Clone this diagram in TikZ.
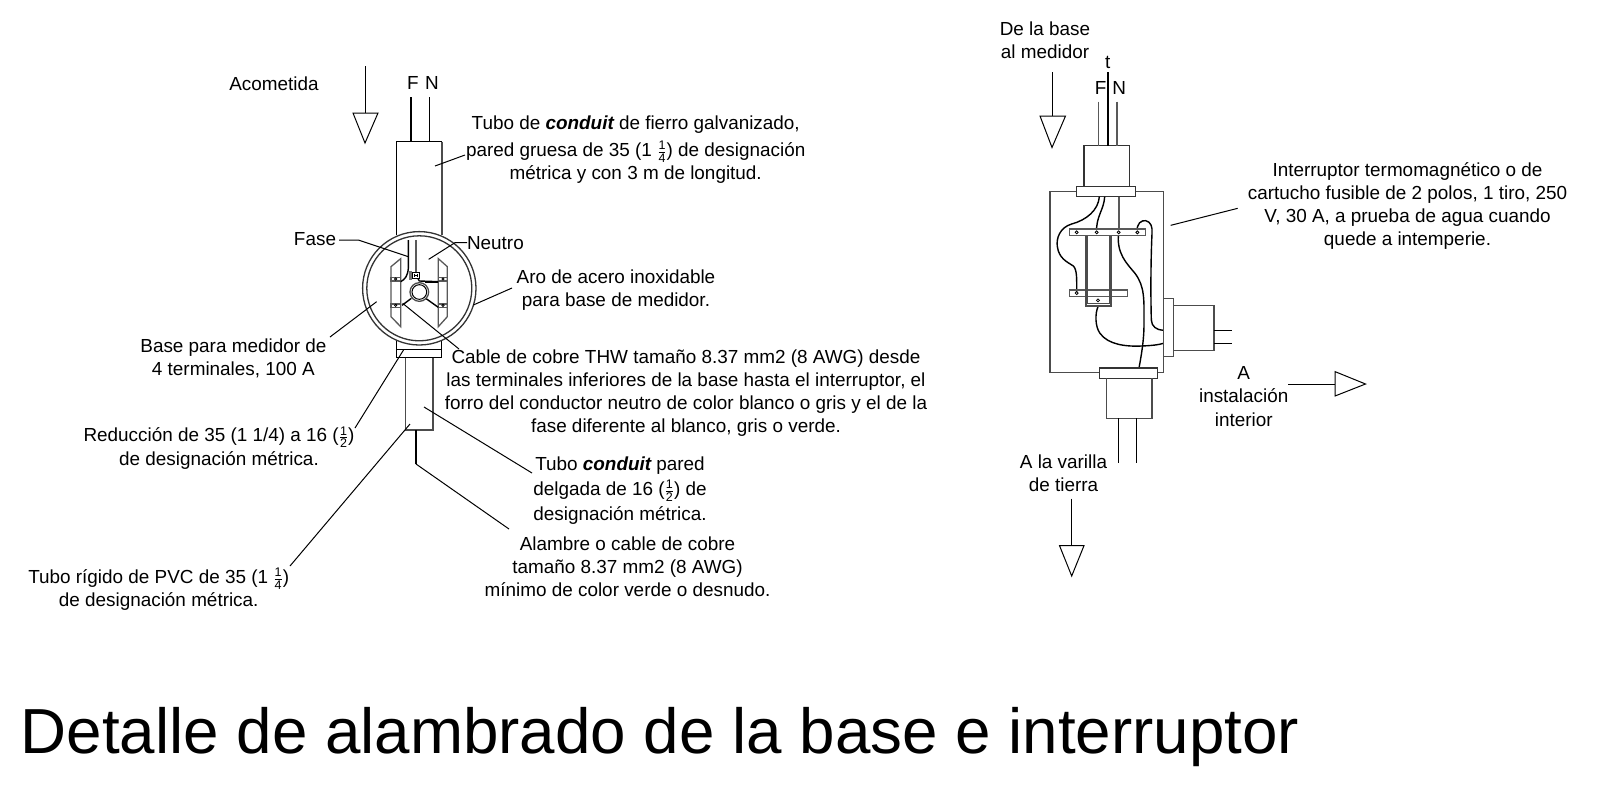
\documentclass[tikz,border=0pt]{standalone}
\usepackage{fontspec}
\setmainfont{Liberation Sans}
\newcommand\fr[2]{\smash{$\frac{\mbox{\fontsize{12.5}{12.5}\selectfont #1}}{\mbox{\fontsize{12.5}{12.5}\selectfont #2}}$}}
\tikzset{
  lab/.style={align=center,font=\fontsize{18.9}{23.2}\selectfont,inner sep=0pt},
  ttl/.style={font=\fontsize{63.7}{70}\selectfont,inner sep=0pt},
  thin line/.style={draw=black,line width=1pt},
  tubeline/.style={draw=black!70,line width=1.3pt},
  wire/.style={draw=black,line width=1.4pt},
  grayw/.style={draw=black!65,line width=1.3pt},
  arrowhd/.style={draw=black,line width=1pt,fill=white,line join=miter},
}
\begin{document}
\begin{tikzpicture}[x=1pt,y=-1pt]
\useasboundingbox (0,0) rectangle (1605,793);
% ---------- Left: labels
\node[lab] (acom) at (274,84) {Acometida};
\node[lab] (lf) at (413,83.3) {F};
\node[lab] (ln) at (432,83.3) {N};
\node[lab] (ltubo) at (635.7,150) {Tubo de {\bfseries\itshape conduit} de fierro galvanizado,\\[3.5pt]pared gruesa de 35 (1 \fr{1}{4}) de designación\\métrica y con 3 m de longitud.};
\node[lab] (lfase) at (315,239) {Fase};
\node[lab] (lneu) at (495.4,243) {Neutro};
\node[lab] (laro) at (616,290.5) {Aro de acero inoxidable\\para base de medidor.};
\node[lab] (lbase) at (233.4,358.5) {Base para medidor de\\4 terminales, 100 A};
\node[lab] (lcable) at (686,393) {Cable de cobre THW tamaño 8.37 mm2 (8 AWG) desde\\las terminales inferiores de la base hasta el interruptor, el\\forro del conductor neutro de color blanco o gris y el de la\\fase diferente al blanco, gris o verde.};
\node[lab] (lred) at (219,448.5) {Reducción de 35 (1 1/4) a 16 (\fr{1}{2})\\de designación métrica.};
\node[lab] (lcond) at (620,490.5) {Tubo {\bfseries\itshape conduit} pared\\[1.5pt]delgada de 16 (\fr{1}{2}) de\\[1.5pt]designación métrica.};
\node[lab] (lalam) at (627.5,566.5) {Alambre o cable de cobre\\tamaño 8.37 mm2 (8 AWG)\\mínimo de color verde o desnudo.};
\node[lab] (lpvc) at (158.7,590) {Tubo rígido de PVC de 35 (1 \fr{1}{4})\\de designación métrica.};
% ---------- Left: arrow
\coordinate (a1s) at (365,66); \coordinate (a1e) at (365,113);
\draw[thin line] (a1s) -- (a1e);
\draw[arrowhd] (353,113) -- (378,113) -- (365,143) -- cycle;
% ---------- Left: tubes
\draw[tubeline,draw=black] (396.7,235) -- (396.7,141.7) -- (442,141.7);
\draw[tubeline] (442,141.7) -- (442,235);
\draw[wire] (411,97.3) -- (411,141.7);
\draw[wire] (429.7,97.3) -- (429.7,141.7);
\draw[thin line] (396.7,340) -- (396.7,357.5) -- (441.7,357.5) -- (441.7,340);
\draw[thin line] (396.7,349) -- (441.7,349);
\draw[tubeline] (405.7,357.5) -- (405.7,430) -- (433,430) -- (433,357.5);
\coordinate (g1) at (416,430); \coordinate (g2) at (416,464); \coordinate (g3) at (509,529);
\draw[wire] (g1) -- (g2);
\draw[thin line] (g2) -- (g3);
% ---------- Left: meter, zoom coordinates
\fill[white] (419.3,288.3) circle (56.7);
\draw[tubeline,draw=black!80] (419.3,288.3) circle (56.7);
\draw[tubeline,draw=black!80] (419.3,288.3) circle (52.5);
\begin{scope}[xshift=330pt,yshift=-200pt,x=0.33333pt,y=-0.33333pt]
  \draw[grayw] (183,200) -- (212,176) -- (212,380) -- (183,350) -- cycle;
  \draw[grayw] (325,176) -- (352,200) -- (352,350) -- (325,380) -- cycle;
  \draw[grayw] (183,232) rectangle (212,243);
  \draw[grayw] (183,312) rectangle (212,323);
  \draw[grayw] (325,232) rectangle (352,243);
  \draw[grayw] (325,312) rectangle (352,323);
  \foreach \p in {(197,237),(197,316),(339,237),(339,316)} \draw[black,line width=.8pt] \p circle (3.5);
  \draw[wire] (235,120) -- (235,205) .. controls (233,228) and (225,238) .. (212,245);
  \draw[wire] (258,120) -- (258,225) -- (268,243) -- (325,245);
  \draw[wire] (285,246) -- (325,246);
  \fill[black!55] (238,213) rectangle (246,240);
  \draw[black,line width=.8pt,fill=white] (246,218) rectangle (268,236);
  \draw[black,line width=.9pt] (252,221) -- (252,232) (262,221) -- (262,232) (252,227) -- (262,227);
  \draw[wire] (244,295) -- (216,316);
  \draw[wire] (287,295) -- (325,322);
  \draw[black!70,line width=1.3pt] (268,276) circle (28);
  \draw[black,line width=1pt] (268,276) circle (22);
  \coordinate (pf1) at (235,170); \coordinate (pf2) at (85,120);
  \coordinate (pn1) at (296,178); \coordinate (pn2) at (375,128);
  \coordinate (pb) at (140,305);
  \coordinate (paro) at (430,315);
  \coordinate (pc) at (218,310);
\end{scope}
% ---------- Left: leaders
\coordinate (ut) at (435,166); \coordinate (ut2) at (465,155);
\draw[thin line] (ut) -- (ut2);
\coordinate (fs) at (339,240); \draw[thin line] (fs) -- (pf2) -- (pf1);
\coordinate (ns) at (467,242.7); \draw[thin line] (ns) -- (pn2) -- (pn1);
\coordinate (bs) at (330,337); \draw[thin line] (bs) -- (pb);
\coordinate (as) at (512,288); \draw[thin line] (as) -- (paro);
\coordinate (cs) at (459,349); \draw[thin line] (cs) -- (pc);
\coordinate (r1) at (403.5,350); \coordinate (r2) at (355,428); \draw[thin line] (r1) -- (r2);
\coordinate (t1) at (410,424); \coordinate (t2) at (290,566); \draw[thin line] (t1) -- (t2);
\coordinate (c1) at (424,407); \coordinate (c2) at (532,473); \draw[thin line] (c1) -- (c2);
% ---------- Right: labels
\node[lab] (ldb) at (1045,40.4) {De la base\\al medidor};
\node[lab] (rt) at (1107.7,62.7) {t};
\node[lab] (rf) at (1100.7,87.5) {F};
\node[lab] (rn) at (1119.3,87.5) {N};
\node[lab] (lint) at (1407.5,206) {Interruptor termomagnético o de\\cartucho fusible de 2 polos, 1 tiro, 250\\V, 30 A, a prueba de agua cuando\\quede a intemperie.};
\node[lab] (lai) at (1243.7,396.5) {A\\instalación\\interior};
\node[lab] (lav) at (1063.5,473.5) {A la varilla\\de tierra};
% ---------- Right: arrows
\draw[thin line] (1052,72) -- (1052,116);
\draw[arrowhd] (1040,116) -- (1065.5,116) -- (1052,147.5) -- cycle;
\draw[thin line] (1071.7,498.5) -- (1071.7,545.6);
\draw[arrowhd] (1059.5,545.6) -- (1084,545.6) -- (1071.7,576) -- cycle;
\draw[thin line] (1288,384) -- (1335,384);
\draw[arrowhd] (1335,371.6) -- (1335,396) -- (1365.5,384) -- cycle;
% ---------- Right: switch, zoom coordinates
\begin{scope}[xshift=1030pt,yshift=-130pt,x=0.33333pt,y=-0.33333pt]
  \draw[tubeline] (60,728) -- (60,184) -- (401,184) -- (401,728) -- cycle;
  \draw[tubeline,draw=black!80] (162,170) -- (162,47) -- (298,47) -- (298,170);
  \draw[grayw] (206,-85) -- (206,47);
  \draw[wire] (234,-174) -- (234,47);
  \draw[grayw] (261,-85) -- (261,47);
  \draw[tubeline,draw=black!80,fill=white] (140,170) rectangle (316,200);
  % wires
  \draw[wire] (208,200) .. controls (205,240) and (170,270) .. (125,282) .. controls (90,292) and (78,325) .. (82,350) .. controls (87,385) and (110,395) .. (130,408) .. controls (142,420) and (140,450) .. (140,489);
  \draw[wire] (224,200) .. controls (222,240) and (197,260) .. (200,307);
  \draw[grayw] (267,200) -- (267,307);
  \draw[wire] (266,307) .. controls (258,370) and (290,400) .. (315,430) .. controls (345,470) and (342,510) .. (342,580) .. controls (342,630) and (335,670) .. (327,714);
  \draw[wire] (322,307) .. controls (318,280) and (335,270) .. (347,272) .. controls (362,275) and (368,290) .. (366,310) .. controls (362,400) and (362,500) .. (364,570) .. controls (365,590) and (380,600) .. (400,601);
  \draw[wire] (204,530) .. controls (195,550) and (195,590) .. (210,610) .. controls (235,645) and (290,650) .. (335,648) .. controls (360,647) and (385,645) .. (400,640);
  % bars
  \draw[grayw,fill=white] (119,297) rectangle (347,317);
  \draw[grayw] (119,480) rectangle (293,500);
  \draw[black!70,line width=1.8pt] (167,317) -- (167,528) -- (244,528) -- (244,317);
  \draw[black!70,line width=.8pt] (172,317) -- (172,520) (239,317) -- (239,520) (172,520) -- (239,520);
  \foreach \p in {(140,307),(200,307),(266,307),(322,307),(140,489),(204,511)} \draw[black,line width=.8pt,fill=white] \p circle (4.5);
  % side
  \draw[tubeline,fill=white] (401,505) rectangle (431,680);
  \draw[tubeline] (431,526) -- (552,526) -- (552,662) -- (431,662);
  \draw[wire] (552,601) -- (606,601);
  \draw[wire] (552,641) -- (606,641);
  % bottom
  \draw[tubeline,draw=black!80,fill=white] (209,714) rectangle (383,745);
  \draw[tubeline] (230,745) -- (230,865) -- (366,865) -- (366,745);
  \draw[wire] (265,865) -- (265,998);
  \draw[wire] (320,865) -- (320,998);
  \coordinate (il) at (422,286); \coordinate (il2) at (623,235);
\end{scope}
\draw[thin line] (il) -- (il2);
% ---------- Title
\node[ttl,anchor=base] (title) at (660,753) {Detalle de alambrado de la base e interruptor};
\end{tikzpicture}
\end{document}
